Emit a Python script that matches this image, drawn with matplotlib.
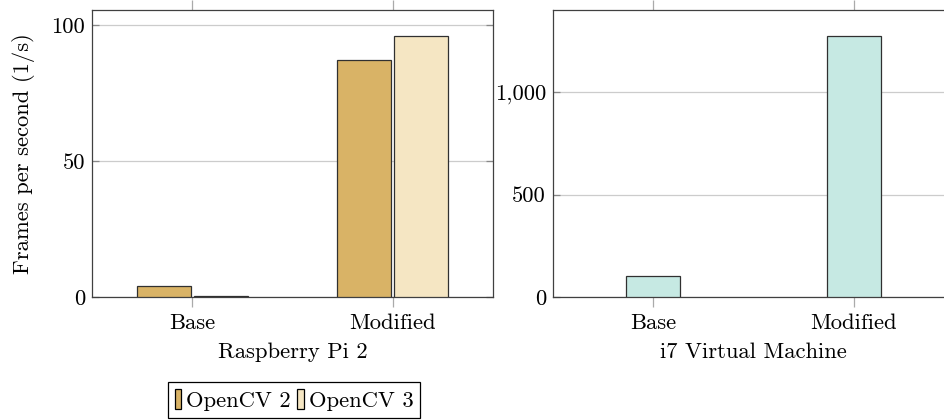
import matplotlib
matplotlib.use("Agg")
import matplotlib.pyplot as plt
import numpy as np
from matplotlib.patches import Patch

plt.rcParams['font.family'] = ['cmr10', 'DejaVu Serif']
plt.rcParams['axes.formatter.use_mathtext'] = True
plt.rcParams['font.size'] = 16.3

categories = ["Base", "Modified"]
rpi_opencv2 = [4.0, 87.0]
rpi_opencv3 = [0.3, 96.0]
i7_values = [102, 1273]
rpi_yticks = [0, 50, 100]
rpi_yticklabels = ["0", "50", "100"]
i7_yticks = [0, 500, 1000]
i7_yticklabels = ["0", "500", "1,000"]

c2 = "#d9b366"
c3 = "#f5e6c3"
ci7 = "#c6e9e3"
edge = "#303030"
spine = "#404040"
gridc = "#cccccc"

fig = plt.figure(figsize=(9.44, 4.2), dpi=100)
W = 401 / 944
H = 287 / 420
ax1 = fig.add_axes([92 / 944, 1 - 297 / 420, W, H])
ax2 = fig.add_axes([553 / 944, 1 - 297 / 420, W, H])

x = np.arange(len(categories))
bw = 0.27
off = 0.142
ax1.bar(x - off, rpi_opencv2, bw, color=c2, edgecolor=edge, linewidth=0.9, zorder=3)
ax1.bar(x + off, rpi_opencv3, bw, color=c3, edgecolor=edge, linewidth=0.9, zorder=3)
ax2.bar(x, i7_values, bw, color=ci7, edgecolor=edge, linewidth=0.9, zorder=3)

for ax, yt, ytl, ymax, xl in [
    (ax1, rpi_yticks, rpi_yticklabels, 105.5, "Raspberry Pi 2"),
    (ax2, i7_yticks, i7_yticklabels, 1400, "i7 Virtual Machine"),
]:
    ax.set_xlim(-0.5, 1.5)
    ax.set_ylim(0, ymax)
    ax.set_xticks(x)
    ax.set_xticklabels(categories)
    ax.set_yticks(yt)
    ax.set_yticklabels(ytl)
    ax.yaxis.grid(True, color=gridc, linewidth=0.9, zorder=0)
    ax.set_axisbelow(True)
    ax.tick_params(axis='x', direction='out', top=True, bottom=True, length=7,
                   color='#aaaaaa', width=0.9, pad=5)
    ax.tick_params(axis='y', direction='in', left=True, right=True, length=5,
                   color='#888888', width=0.9, pad=5)
    for s in ax.spines.values():
        s.set_color(spine)
        s.set_linewidth(0.9)
    ax.set_xlabel(xl, labelpad=7)

ax1.set_ylabel("Frames per second (1/s)", labelpad=12)

handles = [Patch(facecolor=c2, edgecolor='black', linewidth=0.9),
           Patch(facecolor=c3, edgecolor='black', linewidth=0.9)]
leg = fig.legend(handles, ["OpenCV 2", "OpenCV 3"], loc='center',
                 bbox_to_anchor=(294 / 944, 1 - 400 / 420), ncol=2,
                 handlelength=0.3, handleheight=1.0, handletextpad=0.2,
                 columnspacing=0.3, borderpad=0.3, borderaxespad=0,
                 fancybox=False, edgecolor='black', framealpha=1)
leg.get_frame().set_linewidth(0.9)

fig.savefig("out.png", dpi=100)
